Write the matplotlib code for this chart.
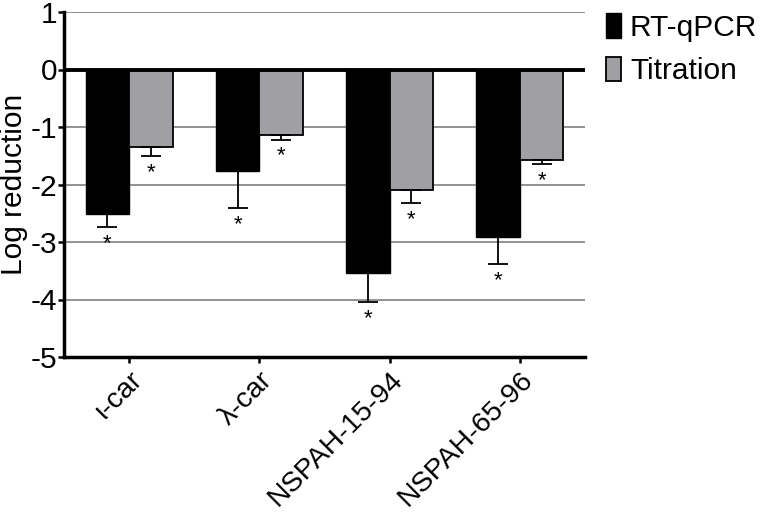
import matplotlib
matplotlib.use("Agg")
import matplotlib.pyplot as plt
import matplotlib.transforms as mtransforms
import numpy as np

plt.rcParams['font.family'] = ['Liberation Sans', 'DejaVu Sans']

categories = ["\u03b9-car", "\u03bb-car", "NSPAH-15-94", "NSPAH-65-96"]
series_names = ["RT-qPCR", "Titration"]
rtqpcr = [-2.52, -1.77, -3.54, -2.92]
rtqpcr_err = [0.22, 0.64, 0.50, 0.47]
titration = [-1.35, -1.14, -2.10, -1.58]
titration_err = [0.15, 0.08, 0.22, 0.06]
yticks = [1, 0, -1, -2, -3, -4, -5]

FS = 21.5

fig = plt.figure(figsize=(7.62, 5.15), dpi=100)
ax = fig.add_axes([64/762, 1-357/515, (585-64)/762, (357-12)/515])

x = np.arange(len(categories))
w = 0.334
colors = ["#000000", "#a0a0a4"]

ax.set_ylim(-5, 1)
ax.set_xlim(-0.5, 3.5)

for yv in [1, -1, -2, -3, -4]:
    ax.axhline(yv, color="#8a8a8a", lw=1.3, zorder=0)

b1 = ax.bar(x - w/2, rtqpcr, w, color=colors[0], edgecolor="black", lw=1.0,
            label=series_names[0], zorder=2)
b2 = ax.bar(x + w/2, titration, w, color=colors[1], edgecolor="black", lw=1.3,
            label=series_names[1], zorder=2)

ax.errorbar(x - w/2, rtqpcr, yerr=[rtqpcr_err, [0]*4], fmt='none', ecolor='black',
            elinewidth=1.3, capsize=7.5, capthick=1.3, zorder=3)
ax.errorbar(x + w/2, titration, yerr=[titration_err, [0]*4], fmt='none', ecolor='black',
            elinewidth=1.3, capsize=7.5, capthick=1.3, zorder=3)

for xs, vals, errs in [(x - w/2, rtqpcr, rtqpcr_err), (x + w/2, titration, titration_err)]:
    for xi, v, e in zip(xs, vals, errs):
        ax.annotate("*", (xi, v - e), xytext=(0, -22*0.72), textcoords='offset points',
                    ha='center', va='baseline', fontsize=16)

ax.axhline(0, color='black', lw=2.8, zorder=4)

for s in ['top', 'right']:
    ax.spines[s].set_visible(False)
ax.spines['left'].set_linewidth(2.5)
ax.spines['bottom'].set_linewidth(2.5)

ax.set_yticks(yticks)
ax.set_yticklabels([str(t) for t in yticks], fontsize=FS)
ax.set_xticks(x)
ax.set_xticklabels(categories, fontsize=20.5, rotation=45, ha='right', va='top',
                   rotation_mode='anchor')
shift = mtransforms.ScaledTranslation(-6/100, 0, fig.dpi_scale_trans)
for lab in ax.get_xticklabels():
    lab.set_transform(lab.get_transform() + shift)
ax.tick_params(axis='both', length=4, width=1.8, pad=1)
ax.tick_params(axis='x', pad=3)
ax.set_ylabel("Log reduction", fontsize=FS, labelpad=0)
ax.yaxis.set_label_coords(-0.069, 0.5)

fig.legend(handles=[b1, b2], labels=series_names, loc='upper left',
           bbox_to_anchor=(606/762, 1-13/515), frameon=False, fontsize=FS,
           handlelength=0.5, handleheight=0.9, handletextpad=0.3,
           labelspacing=0.5, borderpad=0, borderaxespad=0)

fig.savefig("out.png", dpi=100)
